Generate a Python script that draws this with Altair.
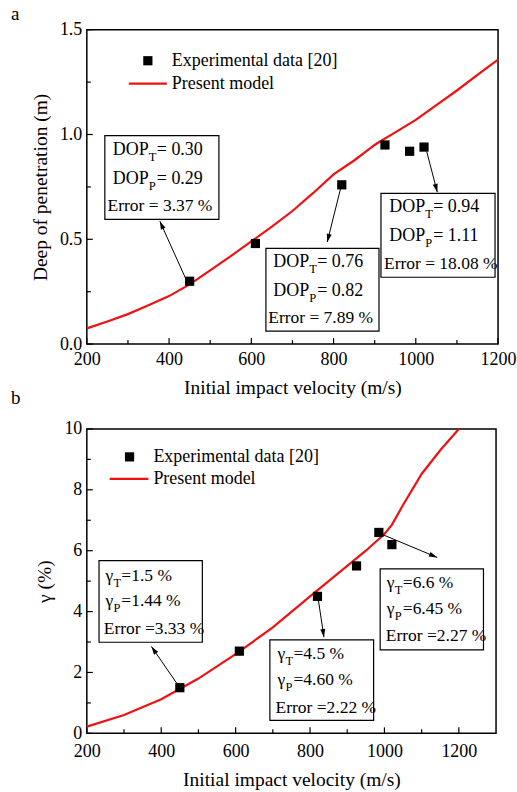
import math
import altair as alt
import pandas as pd

FONT = "Times New Roman, Liberation Serif, serif"
RED = "#ee1111"

# ---------------- panel a : depth of penetration ----------------
a_exp_v = [450, 610, 820, 925, 985, 1020]
a_exp_y = [0.30, 0.48, 0.76, 0.95, 0.92, 0.94]
a_mod_v = [200, 250, 300, 350, 400, 450, 500, 550, 600, 650, 700, 750, 800,
           850, 900, 910, 950, 1000, 1050, 1100, 1150, 1200]
a_mod_y = [0.075, 0.108, 0.143, 0.185, 0.229, 0.285, 0.352, 0.42, 0.49, 0.56,
           0.635, 0.72, 0.81, 0.876, 0.95, 0.963, 1.01, 1.07, 1.14, 1.21, 1.285, 1.357]

a_box_x1 = [243.8, 635.5, 915.3]
a_box_x2 = [521.2, 910.5, 1192.7]
a_box_y1 = [0.995, 0.457, 0.719]
a_box_y2 = [0.595, 0.062, 0.319]
a_sym_x = [263.3, 653.3, 935.5]
a_err_x = [250.4, 641.1, 922.6]
a_l1_y = [0.925, 0.390, 0.652]
a_l2_y = [0.790, 0.255, 0.516]
a_err_y = [0.660, 0.124, 0.382]
a_T_vals = ["= 0.30", "= 0.76", "= 0.94"]
a_P_vals = ["= 0.29", "= 0.82", "= 1.11"]
a_err_txt = ["Error = 3.37 %", "Error = 7.89 %", "Error = 18.08 %"]
a_arr_x1 = [443.3, 817.3, 1026.5]
a_arr_y1 = [0.300, 0.744, 0.919]
a_arr_x2 = [377.6, 784.7, 1052.3]
a_arr_y2 = [0.586, 0.487, 0.725]
a_leg_sq = (348.4, 1.352)
a_leg_line = (302.2, 394.6, 1.243)
a_leg_text_x = 406.8

# ---------------- panel b : gamma ----------------
b_exp_v = [450, 610, 820, 925, 985, 1020]
b_exp_y = [1.5, 2.7, 4.5, 5.5, 6.6, 6.2]
b_mod_v = [200, 300, 400, 500, 600, 700, 800, 900, 950, 1000, 1020, 1050, 1100, 1150, 1200]
b_mod_y = [0.22, 0.6, 1.12, 1.8, 2.6, 3.48, 4.5, 5.5, 6.0, 6.55, 6.85, 7.5, 8.52, 9.3, 10.0]

b_box_x1 = [232.8, 692.1, 988.5]
b_box_x2 = [510.5, 970.9, 1266.2]
b_box_y1 = [5.672, 3.072, 5.400]
b_box_y2 = [2.993, 0.426, 2.744]
b_sym_x = [249.9, 712.7, 1006.4]
b_err_x = [245.4, 707.3, 1003.7]
b_l1_y = [5.180, 2.613, 4.941]
b_l2_y = [4.338, 1.761, 4.089]
b_err_y = [3.433, 0.843, 3.190]
b_T_vals = ["=1.5 %", "=4.5 %", "=6.6 %"]
b_P_vals = ["=1.44 %", "=4.60 %", "=6.45 %"]
b_err_txt = ["Error =3.33 %", "Error =2.22 %", "Error =2.27 %"]
b_arr_x1 = [451.8, 821.3, 985.0]
b_arr_y1 = [1.466, 4.469, 6.580]
b_arr_x2 = [373.6, 837.4, 1141.8]
b_arr_y2 = [2.852, 3.157, 5.780]
b_leg_sq = (314.8, 9.082)
b_leg_line = (261.4, 365.6, 8.361)
b_leg_text_x = 378.9

ARROW_PATH = "M0,0L-0.4,1.3L0.4,1.3Z"


def make_panel(W, H, xdom, ydom, xvals, xminor, yvals, yminor, yfmt, ytitle,
               exp_v, exp_y, mod_v, mod_y,
               bx1, bx2, by1, by2, sym, sym_x, sub_dx, rest_dx, err_x,
               l1_y, l2_y, err_y, t_vals, p_vals, err_txt,
               ax1, ay1, ax2, ay2, leg_sq, leg_line, leg_tx, label, fs, xlp):
    sx = alt.Scale(domain=xdom, nice=False, zero=False)
    sy = alt.Scale(domain=ydom, nice=False, zero=False)
    x_axis = alt.Axis(values=xvals, format="d", labelPadding=xlp, titlePadding=10, labelFlush=False)
    y_axis = alt.Axis(values=yvals, format=yfmt, labelPadding=5, titlePadding=9, labelFlush=False)
    xt = "Initial impact velocity (m/s)"

    def X(f):
        return alt.X(f, type="quantitative", scale=sx, axis=x_axis, title=xt)

    def Y(f):
        return alt.Y(f, type="quantitative", scale=sy, axis=y_axis, title=ytitle)

    layers = []

    # inner ticks
    tick_x = pd.DataFrame({"v": xvals + xminor, "len": [6] * len(xvals) + [4] * len(xminor)})
    for ln in (6, 4):
        d = tick_x[tick_x["len"] == ln]
        layers.append(alt.Chart(d).mark_rule(color="black", strokeWidth=1.2).encode(
            x=X("v"), y=alt.value(H), y2=alt.value(H - ln)))
    tick_y = pd.DataFrame({"v": yvals + yminor, "len": [6] * len(yvals) + [4] * len(yminor)})
    for ln in (6, 4):
        d = tick_y[tick_y["len"] == ln]
        layers.append(alt.Chart(d).mark_rule(color="black", strokeWidth=1.2).encode(
            y=Y("v"), x=alt.value(0), x2=alt.value(ln)))

    # model line
    layers.append(alt.Chart(pd.DataFrame({"v": mod_v, "y": mod_y})).mark_line(
        color=RED, strokeWidth=2.2).encode(x=X("v"), y=Y("y")))

    # arrows
    kx = W / (xdom[1] - xdom[0])
    ky = H / (ydom[1] - ydom[0])
    ang = []
    for a, b, c, d in zip(ax1, ay1, ax2, ay2):
        dx = (c - a) * kx
        dy = -(d - b) * ky
        ang.append((math.degrees(math.atan2(dx, -dy)) + 360) % 360)
    arr = pd.DataFrame({"x1": ax1, "y1": ay1, "x2": ax2, "y2": ay2, "ang": ang})
    layers.append(alt.Chart(arr).mark_rule(color="black", strokeWidth=1).encode(
        x=X("x1"), y=Y("y1"), x2="x2:Q", y2="y2:Q"))
    layers.append(alt.Chart(arr).mark_point(shape=ARROW_PATH, filled=True, color="black",
                                            opacity=1, size=160, strokeWidth=0).encode(
        x=X("x2"), y=Y("y2"), angle=alt.Angle("ang:Q", scale=None)))

    # experimental points
    layers.append(alt.Chart(pd.DataFrame({"v": exp_v, "y": exp_y})).mark_square(
        size=85, color="black", opacity=1).encode(x=X("v"), y=Y("y")))

    # boxes
    boxes = pd.DataFrame({"x1": bx1, "x2": bx2, "y1": by1, "y2": by2})
    layers.append(alt.Chart(boxes).mark_rect(fill="white", stroke="black", strokeWidth=1.2).encode(
        x=X("x1"), x2="x2:Q", y=Y("y1"), y2="y2:Q"))

    # box texts
    lines = pd.DataFrame({
        "x": sym_x + sym_x,
        "y": l1_y + l2_y,
        "sym": [sym] * 6,
        "sub": ["T"] * 3 + ["P"] * 3,
        "rest": t_vals + p_vals,
    })
    tprops = dict(font=FONT, fontSize=fs, color="black", align="left", baseline="middle")
    layers.append(alt.Chart(lines).mark_text(**tprops).encode(x=X("x"), y=Y("y"), text="sym:N"))
    layers.append(alt.Chart(lines).mark_text(font=FONT, fontSize=12.5, color="black", align="left",
                                             baseline="middle", dx=sub_dx, dy=7).encode(
        x=X("x"), y=Y("y"), text="sub:N"))
    layers.append(alt.Chart(lines).mark_text(dx=rest_dx, **tprops).encode(
        x=X("x"), y=Y("y"), text="rest:N"))
    errs = pd.DataFrame({"x": err_x, "y": err_y, "t": err_txt})
    layers.append(alt.Chart(errs).mark_text(font=FONT, fontSize=17.5, color="black", align="left",
                                            baseline="middle").encode(
        x=X("x"), y=Y("y"), text="t:N"))

    # legend (manual)
    layers.append(alt.Chart(pd.DataFrame({"x": [leg_sq[0]], "y": [leg_sq[1]]})).mark_square(
        size=85, color="black", opacity=1).encode(x=X("x"), y=Y("y")))
    layers.append(alt.Chart(pd.DataFrame({"x": [leg_line[0]], "x2": [leg_line[1]], "y": [leg_line[2]]}))
                  .mark_rule(color=RED, strokeWidth=2.2).encode(x=X("x"), x2="x2:Q", y=Y("y")))
    leg_t = pd.DataFrame({"x": [leg_tx, leg_tx], "y": [leg_sq[1], leg_line[2]],
                          "t": ["Experimental data [20]", "Present model"]})
    layers.append(alt.Chart(leg_t).mark_text(font=FONT, fontSize=18, color="black", align="left",
                                             baseline="middle").encode(
        x=X("x"), y=Y("y"), text="t:N"))

    # panel letter
    layers.append(alt.Chart(pd.DataFrame({"t": [label[0]]})).mark_text(
        font=FONT, fontSize=19, color="black", align="left", baseline="alphabetic").encode(
        x=alt.value(label[1]), y=alt.value(label[2]), text="t:N"))

    return alt.layer(*layers).properties(width=W, height=H)


pa = make_panel(412, 315, [200, 1200], [0, 1.5],
                [200, 400, 600, 800, 1000, 1200], [300, 500, 700, 900, 1100],
                [0.0, 0.5, 1.0, 1.5], [0.25, 0.75, 1.25], ".1f", "Deep of penetration (m)",
                a_exp_v, a_exp_y, a_mod_v, a_mod_y,
                a_box_x1, a_box_x2, a_box_y1, a_box_y2, "DOP", a_sym_x, 36, 44, a_err_x,
                a_l1_y, a_l2_y, a_err_y, a_T_vals, a_P_vals, a_err_txt,
                a_arr_x1, a_arr_y1, a_arr_x2, a_arr_y2,
                a_leg_sq, a_leg_line, a_leg_text_x, ("a", -76, -10), 18, 6)

pb = make_panel(410, 305, [200, 1300], [0, 10],
                [200, 400, 600, 800, 1000, 1200], [300, 500, 700, 900, 1100],
                [0, 2, 4, 6, 8, 10], [1, 3, 5, 7, 9], "d", "γ (%)",
                b_exp_v, b_exp_y, b_mod_v, b_mod_y,
                b_box_x1, b_box_x2, b_box_y1, b_box_y2, "γ", b_sym_x, 8, 16, b_err_x,
                b_l1_y, b_l2_y, b_err_y, b_T_vals, b_P_vals, b_err_txt,
                b_arr_x1, b_arr_y1, b_arr_x2, b_arr_y2,
                b_leg_sq, b_leg_line, b_leg_text_x, ("b", -76, -25), 17.5, 9)

chart = alt.vconcat(pa, pb, spacing=85, bounds="flush").properties(
    padding={"left": 10, "top": 3, "right": 0, "bottom": 2},
    background="white",
).configure_view(
    stroke="black", strokeWidth=1.5
).configure_axis(
    domain=False, ticks=False, grid=False,
    labelFont=FONT, labelFontSize=18, labelColor="black",
    titleFont=FONT, titleFontSize=19.5, titleFontWeight="normal", titleColor="black",
)

chart.save("out.html", embed_options={"renderer": "svg", "actions": False})
